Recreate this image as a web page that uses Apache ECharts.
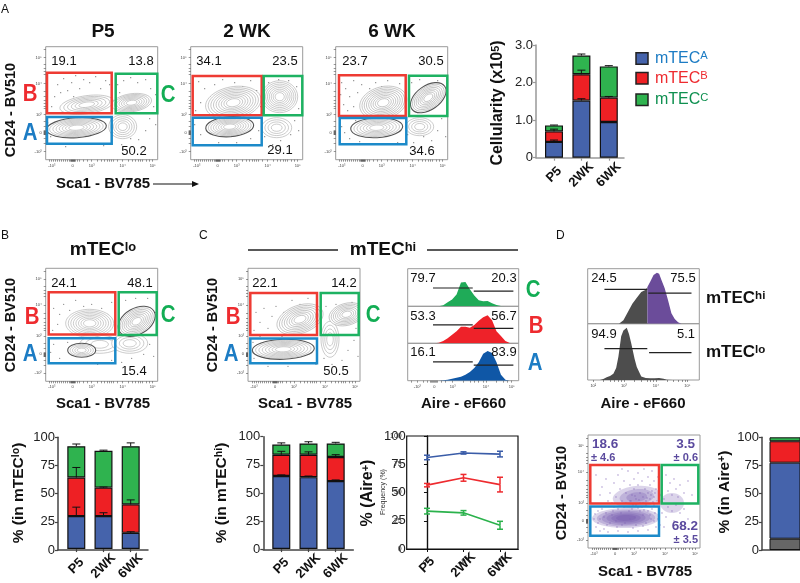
<!DOCTYPE html>
<html><head><meta charset="utf-8">
<style>html,body{margin:0;padding:0;background:#fff}#c{width:800px;height:583px}</style>
<script src="https://cdn.jsdelivr.net/npm/echarts@6/dist/echarts.min.js"></script>
</head><body><div id="c"></div>
<script>
// ---------- values ----------
const ages = ['P5','2WK','6WK'];
const cellA = [0.42,1.52,0.95], cellB = [0.28,0.70,0.65], cellC = [0.16,0.50,0.83];
const cellCaps = [[0.47,1.57,0.96],[0.76,2.33,1.63],[0.87,2.76,2.45]];
const loA = [29.5,29.5,14.5], loB = [34.5,25.5,25.5], loC = [28,33,52];
const loCaps = [[37.5,32.5,15.5],[73,55.5,44],[94,88.5,95]];
const hiA = [65,64,60.5], hiB = [19,20,21.5], hiC = [9,10,12];
const hiCaps = [[66,65,61.5],[87,86.5,84],[94.5,95.5,95]];
const aireA = [81,85,84], aireB = [56.5,63,57], aireC = [33.5,32,21];
const aireErrA = [2,1,2.5], aireErrB = [1.5,3,6.5], aireErrC = [2.5,2,3.5];
const dBar = [10,67.5,19,3.5];

const histX = [0,4,8,12,16,20,24,28,32,36,40,44,48,52,56,60,64,68,72,76,80,84,88,92,96,100];
const histC = [0,0,0,0,0,0,0,0,3,12,20,35,70,72,50,32,18,15,16,9,4,1,0,0,0,0];
const histB = [0,0,0,0,0,0,0,2,7,15,26,36,50,50,47,55,68,78,84,69,36,22,7,1,0,0];
const histA = [0,0,0,0,0,0,0,0,1,3,6,9,12,18,26,38,55,80,88,82,55,18,3,0,0,0];
const dHiGrayX = [28,32,36,40,44,48,52,53.5], dHiGray = [0,10,35,60,78,95,102,110];
const dHiPurpleX = [53.5,56,59,62,64,66,69,72,75,78,81,84], dHiPurple = [110,126,146,153,150,132,106,70,31,14,4,0];
const dLoX = [8,11,14,17,20,23,25.5,27.5,30,32,35,37,39,42,44,48,52,56,60,64,68,71,76];
const dLo = [0,0,3,8,12,18,35,68,128,145,153,135,108,62,38,10,6,5,5,6,4,1,0];

const flowXTickVals = [6,27,46,77,107], flowYTickVals = [11,37,68,86,105];
const flowXTickText = ['-10³','0','10³','10⁴','10⁵'], flowYTickText = ['10⁵','10⁴','10³','0','-10³'];
const flowXMarks = [4,6,8,10,12,14,16,18,20,22,24,25,25.5,26,26.5,27,27.5,28,28.5,29,30,32,34,38,42,46,52,56,59,62,64,66,68,72,77,83,87,90,93,95,97,101,104,107];
const flowYMarks = [3,11,18,22,25,28,37,45,50,54,57,60,62,68,75,80,84,84.5,85,85.5,86,86.5,87,87.5,88,92,97,105];
const histXVals = [8.7,24,40.5,70.5,93.7];
const histDVals = [5,32.5,61,89.3], histDText = ['10²','10³','10⁴','10⁵'];

// gates: [x0,y0,x1,y1] for red, green, blue, read in the 112-unit scale of each plot frame
const gatesA1 = [[1.3,26,66,66.6],[70,27,111.6,66.6],[1.3,70.3,66,97]];
const gatesA2 = [[2,29.3,71,68.6],[73,29.3,111.6,68.6],[2,71,71,98.6]];
const gatesA3 = [[3.3,28.6,70,69.3],[73.3,29,111.6,69.3],[4,71.3,70.6,97.6]];
const gatesB  = [[3,24,69.6,66.3],[73,24,111,66.7],[3,70,69.6,95]];
const gatesC  = [[2.3,24.6,69,66.6],[72.7,24.6,110.7,66.6],[2.3,70.3,69,95]];
const gatesD  = [[2.3,30,71,68.4],[73.7,30,110.3,68.6],[2.3,71.4,71,100.7]];

// contour families: [cx,cy,rx,ry,rotation,rings,darkEdge]
const contA1 = [[41,58,27,9,8,6,0],[86,56,20,9,8,7,0],[77,80,14,12,0,5,0],[30.7,81,30,10,4,8,1]];
const contA2 = [[42.6,56,28,16,10,9,0],[89,50,18,16,0,8,0],[86,81,15,10,0,4,0],[39,80,24,10,4,8,1]];
const contA3 = [[47.6,56,24,16,15,9,0],[84,80,14,9,0,4,0],[92.6,51,20,12,35,8,1],[41,81,26,10,3,7,1]];
const contB  = [[54,76,20,9,0,3,0],[84,75,18,10,0,4,0],[44,55,24,14,0,8,0],[36,82,14,7,0,5,1],[91,53,20,13,30,8,1]];
const contC  = [[82,71,9,18,0,4,0],[52,51,24,14,20,8,0],[98.7,46,18,11,15,7,0],[35.3,81,31,10,2,8,1]];
const blobsD = [[38,83,34,10,1,6,0],[48.7,62,24,11,6,3,0],[84,68,12,10,0,1,0]];

const specksA1 = [[12,38],[18,32],[22,44],[26,36],[30,29],[34,42],[38,33],[44,36],[50,30],[55,42],[60,34],[64,38],[9,50],[15,46],[28,50],[6,60],[72,38],[78,34],[85,31],[92,36],[100,33],[105,42],[110,48],[108,60],[104,72],[100,84],[93,93],[85,92],[76,98],[68,88],[2,76],[5,90],[20,100],[40,97],[58,99],[110,78],[18,58],[74,46]];
const specksA2 = [[8,35],[14,42],[20,50],[24,38],[32,33],[36,46],[44,36],[52,40],[60,34],[66,44],[10,56],[5,64],[78,36],[88,33],[98,34],[106,40],[108,62],[104,74],[100,88],[90,94],[82,98],[74,90],[4,78],[10,88],[28,96],[46,96],[60,92],[68,84],[108,84],[70,60],[12,68]];
const specksA3 = [[6,36],[10,42],[14,50],[18,34],[22,46],[26,38],[30,54],[34,42],[40,36],[46,40],[52,34],[58,42],[64,37],[8,58],[12,64],[18,60],[5,48],[76,36],[84,33],[102,34],[108,46],[106,72],[102,84],[96,94],[88,90],[78,96],[6,80],[9,86],[14,92],[24,95],[44,97],[62,96],[72,88],[70,76],[4,74],[20,74],[110,90]];
const specksB = [[8,40],[14,46],[18,36],[24,42],[12,56],[7,62],[30,32],[38,38],[46,36],[56,40],[62,46],[66,34],[80,32],[90,30],[102,30],[110,44],[110,66],[104,76],[98,86],[86,90],[76,94],[66,92],[8,76],[5,84],[14,90],[22,74],[36,95],[52,96],[108,88],[70,82]];
const specksC = [[8,44],[12,54],[16,40],[20,60],[24,48],[28,38],[32,56],[36,44],[44,32],[52,36],[60,30],[66,38],[6,62],[5,74],[10,78],[6,90],[78,38],[88,36],[104,34],[108,60],[106,72],[100,82],[94,92],[84,96],[76,90],[68,96],[40,98],[20,98],[12,68],[34,68],[110,88]];
const specksD = [[14,52],[18,44],[22,58],[26,48],[28,62],[30,40],[32,54],[34,66],[36,46],[38,58],[40,36],[42,50],[42,66],[44,60],[46,44],[46,54],[48,64],[50,38],[50,50],[52,58],[52,68],[54,46],[55,62],[56,34],[57,54],[58,66],[60,42],[60,58],[62,50],[62,64],[64,36],[64,56],[66,46],[66,62],[68,54],[69,66],[70,42],[72,60],[74,50],[76,64],[78,40],[80,56],[82,48],[84,60],[86,44],[88,54],[90,62],[92,50],[96,58],[100,46],[104,60],[80,72],[84,76],[88,70],[92,78],[96,74],[100,84],[78,82],[86,86],[74,78],[72,90],[76,92],[92,90],[6,84],[8,92],[10,76],[12,96],[14,74],[16,94],[20,97],[26,72],[30,96],[36,72],[40,97],[44,74],[50,96],[54,72],[60,95],[64,74],[68,92],[67,78],[62,80],[58,88],[52,76],[48,90],[42,84],[34,90],[28,86],[22,88],[18,78],[12,84],[10,88],[7,79],[66,86],[70,84],[24,68],[38,68],[48,70],[58,70],[66,70],[20,66],[12,60],[8,40],[34,34],[16,82],[24,80],[33,78],[41,76],[47,82],[55,80],[63,84],[37,88],[29,92],[45,93],[55,91],[19,90],[60,76],[43,66],[47,61],[51,65],[55,68],[59,63],[63,60],[67,58],[65,67],[45,70],[50,73],[56,75],[30,74],[25,76]];

// ---------- colours ----------
const blue='#4563ab', red='#ee2024', green='#2fb34f', gray='#666';
const gateCols=['#ee3b33','#1eb262','#1c8ac9'];
const F='"Liberation Sans",Arial,sans-serif';

const grids=[],xAxes=[],yAxes=[],series=[],graphics=[];
function grid(l,t,w,h,extra){grids.push(Object.assign({left:l,top:t,width:w,height:h,containLabel:false},extra||{}));return grids.length-1;}
function off(g,o){return Object.assign({gridIndex:g,type:'value',axisLine:{show:false},axisTick:{show:false},axisLabel:{show:false},splitLine:{show:false}},o);}

function ellipseRings(data,fill){
  series.push({type:'custom',xAxisIndex:xAxes.length-1,yAxisIndex:yAxes.length-1,silent:true,clip:true,z:2,
    data:data,
    renderItem:(p,api)=>{
      const c=api.coord([api.value(0),api.value(1)]), o=api.coord([0,0]), u=api.coord([1,1]);
      const sx=u[0]-o[0], sy=u[1]-o[1];
      const n=api.value(5), dark=api.value(6), rot=api.value(4)*Math.PI/180, kids=[];
      for(let i=0;i<n;i++){
        const k=1-i*0.85/Math.max(n,1);
        const edge=dark&&i===0;
        kids.push({type:'ellipse',x:c[0],y:c[1],rotation:rot,
          shape:{cx:0,cy:0,rx:api.value(2)*k*sx,ry:api.value(3)*k*sy},
          style:fill?{fill:fill,stroke:null,opacity:0.24}:{fill:i===0?'#fff':null,stroke:edge?'#555':'#999',lineWidth:edge?1.1:0.5}});
      }
      return {type:'group',children:kids};
    }});
}
function flow(l,t,gates,conts,specks,opt){
  opt=opt||{};
  const g=grid(l,t,112,113,{show:true,borderColor:'#9a9a9a',borderWidth:1,backgroundColor:'transparent'});
  xAxes.push({gridIndex:g,type:'value',position:'bottom',min:0,max:112,splitLine:{show:false},axisLine:{show:false,onZero:false},
    axisTick:{show:true,length:2,customValues:flowXMarks,lineStyle:{color:'#333',width:0.5}},
    axisLabel:{show:true,fontSize:4,color:'#444',margin:4,fontFamily:F,customValues:flowXTickVals,formatter:v=>flowXTickText[flowXTickVals.indexOf(v)]}});
  yAxes.push({gridIndex:g,type:'value',position:'left',inverse:true,min:0,max:113,splitLine:{show:false},axisLine:{show:false,onZero:false},
    axisTick:{show:true,length:2,customValues:flowYMarks,lineStyle:{color:'#333',width:0.5}},
    axisLabel:{show:true,fontSize:4,color:'#444',margin:4,fontFamily:F,customValues:flowYTickVals,formatter:v=>flowYTickText[flowYTickVals.indexOf(v)]}});
  const xi=xAxes.length-1, yi=yAxes.length-1;
  series.push({type:'scatter',xAxisIndex:xi,yAxisIndex:yi,data:specks,symbolSize:opt.dot||1.2,symbol:'circle',silent:true,itemStyle:{color:opt.dotColor||'#555'},z:1});
  ellipseRings(conts,opt.fill);
  if(opt.fill){const last=series[series.length-1];last.z=0;series[series.length-2].z=1;}
  series.push({type:'custom',xAxisIndex:xi,yAxisIndex:yi,silent:true,clip:false,z:4,data:gates.map((d,i)=>d.concat(i)),
    renderItem:(p,api)=>{const a=api.coord([api.value(0),api.value(1)]),b=api.coord([api.value(2),api.value(3)]);
      return {type:'rect',shape:{x:a[0],y:a[1],width:b[0]-a[0],height:b[1]-a[1]},style:{fill:null,stroke:gateCols[api.value(4)],lineWidth:2.5}};}});
}
function hist(l,t,w,h,yMax,lines,areas,xTicks,xTexts,marks){
  const g=grid(l,t,w,h,{show:true,borderColor:'#9a9a9a',borderWidth:1,backgroundColor:'transparent'});
  if(xTicks){
    xAxes.push({gridIndex:g,type:'value',min:0,max:100,splitLine:{show:false},axisLine:{show:false},
      axisTick:{show:true,length:2,customValues:marks,lineStyle:{color:'#333',width:0.5}},
      axisLabel:{show:true,fontSize:4,color:'#444',margin:4,fontFamily:F,customValues:xTicks,formatter:v=>xTexts[xTicks.indexOf(v)]}});
  } else xAxes.push(off(g,{min:0,max:100}));
  yAxes.push(off(g,{min:0,max:yMax}));
  const xi=xAxes.length-1, yi=yAxes.length-1;
  areas.forEach(a=>series.push({type:'line',xAxisIndex:xi,yAxisIndex:yi,silent:true,symbol:'none',data:a.x.map((x,i)=>[x,a.y[i]]),lineStyle:{width:0},areaStyle:{color:a.color,opacity:1},z:2}));
  lines.forEach(s=>series.push({type:'line',xAxisIndex:xi,yAxisIndex:yi,silent:true,symbol:'none',data:[[s[0],s[2]],[s[1],s[2]]],lineStyle:{color:'#222',width:1.2},z:3}));
}
// axes drawn on a frame grid, bars on a category grid inside it
function frameAxes(l,t,w,h,yMax,yInt,lc,fmt){
  const g=grid(l,t,w,h);
  xAxes.push(off(g,{min:0,max:1,axisLine:{show:true,lineStyle:{color:lc,width:1.5}}}));
  yAxes.push({gridIndex:g,type:'value',min:0,max:yMax,interval:yInt,splitLine:{show:false},axisLine:{show:true,lineStyle:{color:lc,width:1.5}},
    axisTick:{show:true,length:3,lineStyle:{color:lc,width:1.2}},
    axisLabel:{fontSize:13,color:'#222',fontFamily:F,margin:3,formatter:fmt||(v=>v)}});
  series.push({type:'line',xAxisIndex:xAxes.length-1,yAxisIndex:yAxes.length-1,data:[],silent:true});
}
function stackedBars(l,t,w,h,yMax,yInt,c0,step,segs,caps,opt){
  opt=opt||{};
  const lc=opt.axisColor||'#444';
  frameAxes(l,t,w,h,yMax,yInt,lc,opt.fmt);
  const g=grid(c0-step/2,t,step*3,h);
  xAxes.push({gridIndex:g,type:'category',data:ages,axisLine:{show:false},splitLine:{show:false},
    axisTick:{show:true,alignWithLabel:true,length:3,lineStyle:{color:lc,width:1.2}},
    axisLabel:{show:true,interval:0,rotate:45,align:'center',verticalAlign:'middle',fontSize:13,fontWeight:'bold',color:'#111',fontFamily:F,margin:17}});
  yAxes.push(off(g,{min:0,max:yMax}));
  const xi=xAxes.length-1, yi=yAxes.length-1, stackId='s'+g;
  segs.forEach(s=>series.push({type:'bar',xAxisIndex:xi,yAxisIndex:yi,stack:stackId,barWidth:18,silent:true,z:2,
    data:s.v,itemStyle:{color:s.c,borderColor:'#111',borderWidth:1.2}}));
  const base=ages.map(()=>0);
  segs.forEach((s,k)=>{
    const d=s.v.map((v,i)=>{base[i]+=v;return [i,base[i],caps[k][i]];});
    series.push({type:'custom',xAxisIndex:xi,yAxisIndex:yi,silent:true,clip:false,z:3,data:d,renderItem:errItem(4,1,'#111')});
  });
}
function errItem(w,lw,col){return (p,api)=>{
  const a=api.coord([api.value(0),api.value(1)]),b=api.coord([api.value(0),api.value(2)]);
  const st={stroke:col,lineWidth:lw,fill:null};
  return {type:'group',children:[
    {type:'line',shape:{x1:a[0],y1:a[1],x2:b[0],y2:b[1]},style:st},
    {type:'line',shape:{x1:b[0]-w,y1:b[1],x2:b[0]+w,y2:b[1]},style:st}]};};}
function txt(s,x,y,o){o=o||{};
  const size=o.size||13, weight=o.weight||'normal', color=o.color||'#111';
  graphics.push({type:'text',x:x,y:y,rotation:o.rot?Math.PI/2:0,scaleX:o.sx||1,z:20,silent:true,
    style:{text:s,fontSize:size,fontWeight:weight,fontFamily:F,fill:color,align:o.align||'center',verticalAlign:'middle',
      rich:{s:{fontSize:size*(o.supScale||0.68),fontWeight:weight,fontFamily:F,fill:color,verticalAlign:'top'}}}});
}
function bar(x1,y,x2){graphics.push({type:'line',z:20,silent:true,shape:{x1:x1,y1:y,x2:x2,y2:y},style:{stroke:'#222',lineWidth:1.3}});}

// ---------- flow plots ----------
flow(45.7,46.7,gatesA1,contA1,specksA1);
flow(190.7,46.7,gatesA2,contA2,specksA2);
flow(335.7,46.7,gatesA3,contA3,specksA3);
flow(45.7,268.3,gatesB,contB,specksB);
flow(248,268.3,gatesC,contC,specksC);
flow(588,435,gatesD,blobsD,specksD,{fill:'#6a4aa6',dot:1.3,dotColor:'#7f62b5'});

// ---------- histograms ----------
hist(407.7,268.7,111,37.6,111,[[22.8,58.6,54],[59.5,95.2,45]],[{x:histX,y:histC,color:'#1fab58'}]);
hist(407.7,306.3,111,37,111,[[22.8,58.6,55],[59.5,95.2,45]],[{x:histX,y:histB,color:'#ee2229'}]);
hist(407.7,343.3,111,37.4,111,[[22.8,58.6,56],[59.5,95.2,46]],[{x:histX,y:histA,color:'#0f57a6'}],histXVals,flowXTickText,[3,8.7,14,18,20,21,22,23,24,25,26,27,30,34,40.5,50,56,60,64,68,70.5,80,86,90,93.7]);
hist(587.7,268.7,111.6,55,165,[[15,53.4,103],[54.3,93,92]],[{x:dHiGrayX,y:dHiGray,color:'#4d4d4d'},{x:dHiPurpleX,y:dHiPurple,color:'#6b4c9a'}]);
hist(587.7,323.7,111.6,56.3,165,[[15,53.4,92],[55,93,80]],[{x:dLoX,y:dLo,color:'#4d4d4d'}],histDVals,histDText,[5,14,20,24,27,30,32.5,42,48,53,56,59,61,71,77,81,85,87,89.3]);

// ---------- stacked bars ----------
stackedBars(536,45,88,112.7,3,1,554,27.4,[{v:cellA,c:blue},{v:cellB,c:red},{v:cellC,c:green}],cellCaps,{axisColor:'#999',fmt:v=>v===0?'0':v.toFixed(1)});
stackedBars(58,437.3,90,112.7,100,25,76.3,27.2,[{v:loA,c:blue},{v:loB,c:red},{v:loC,c:green}],loCaps);
stackedBars(263.3,436.7,90,112.7,100,25,281.3,27.2,[{v:hiA,c:blue},{v:hiB,c:red},{v:hiC,c:green}],hiCaps);

// ---------- Aire line panel ----------
{const g=grid(406.7,436,111.3,113,{show:true,borderColor:'#111',borderWidth:1.2,backgroundColor:'transparent'});
 const mkX=(sz,wt,mg)=>({gridIndex:g,type:'value',min:-0.556,max:2.493,splitLine:{show:false},axisLine:{lineStyle:{color:'#111',width:1.2}},
   axisTick:{show:true,length:3,customValues:[0,1,2],lineStyle:{color:'#111'}},
   axisLabel:{show:true,customValues:[0,1,2],formatter:v=>ages[v],rotate:45,align:'center',verticalAlign:'middle',fontSize:sz,fontWeight:wt,color:'#111',fontFamily:F,margin:mg}});
 const mkY=(sz,mg)=>({gridIndex:g,type:'value',min:0,max:100,interval:25,splitLine:{show:false},axisLine:{lineStyle:{color:'#111',width:1.2}},
   axisTick:{show:true,length:3,lineStyle:{color:'#111'}},axisLabel:{fontSize:sz,color:sz>10?'#222':'#333',fontFamily:F,margin:mg}});
 xAxes.push(mkX(13,'bold',16)); const xi=xAxes.length-1;
 yAxes.push(mkY(13,1)); const yi=yAxes.length-1;
 xAxes.push(Object.assign(mkX(6,'normal',12),{position:'bottom'}));
 yAxes.push(Object.assign(mkY(7,5),{position:'left'}));
 const addL=(vals,errs,c)=>{
   series.push({type:'line',xAxisIndex:xi,yAxisIndex:yi,silent:true,symbol:'none',data:vals.map((v,i)=>[i,v]),lineStyle:{color:c,width:1.6},z:3});
   series.push({type:'custom',xAxisIndex:xi,yAxisIndex:yi,silent:true,clip:false,z:4,data:vals.map((v,i)=>[i,v,v+errs[i]]),renderItem:errItem(3,1.5,c)});
   series.push({type:'custom',xAxisIndex:xi,yAxisIndex:yi,silent:true,clip:false,z:4,data:vals.map((v,i)=>[i,v,v-errs[i]]),renderItem:errItem(3,1.5,c)});
 };
 addL(aireA,aireErrA,'#3a5ca8'); addL(aireB,aireErrB,'#ee2b2f'); addL(aireC,aireErrC,'#2bb24c');
 series.push({type:'line',xAxisIndex:xi+1,yAxisIndex:yi+1,data:[],silent:true});
}

// ---------- panel D stacked bar, cut by the page edge ----------
frameAxes(762,437.3,38,112.7,100,25,'#444');
{const g=grid(770,437.3,44,112.7);
 xAxes.push(off(g,{type:'category',data:['Aire+']}));
 yAxes.push(off(g,{min:0,max:100}));
 [gray,blue,red,green].forEach((c,k)=>series.push({type:'bar',xAxisIndex:xAxes.length-1,yAxisIndex:yAxes.length-1,stack:'d',barWidth:44,silent:true,data:[dBar[k]],itemStyle:{color:c,borderColor:'#111',borderWidth:1}}));
}

// ---------- text ----------
txt('A',1,10,{size:12,align:'left'});txt('B',1,236,{size:12,align:'left'});txt('C',199,236,{size:12,align:'left'});txt('D',556,236,{size:12,align:'left'});
txt('P5',103,32,{size:19,weight:'bold'});txt('2 WK',247,32,{size:19,weight:'bold'});txt('6 WK',392,32,{size:19,weight:'bold'});
const yl=(x,y)=>txt('CD24 - BV510',x,y,{size:14.5,weight:'bold',rot:1});
const xl=(x,y)=>txt('Sca1 - BV785',x,y,{size:15,weight:'bold'});
yl(11,110);yl(11,325);yl(213,325);yl(562,493);
xl(103,184);xl(103,404);xl(305,404);xl(645,572);
txt('Aire - eF660',463.5,404,{size:15,weight:'bold'});txt('Aire - eF660',643,404,{size:15,weight:'bold'});
graphics.push({type:'line',z:20,silent:true,shape:{x1:153,y1:184,x2:194,y2:184},style:{stroke:'#111',lineWidth:1}});
graphics.push({type:'polygon',z:20,silent:true,shape:{points:[[192,181],[199,184],[192,187]]},style:{fill:'#111'}});
const L=(s,x,y,c)=>txt(s,x,y,{size:24,weight:'bold',color:c,sx:0.85});
const lr='#ee2b2f',lb='#1c7cc4',lg='#12ad54';
L('B',30,94,lr);L('A',30,133,lb);L('C',168,95,lg);
L('B',32,317,lr);L('A',30,354,lb);L('C',168,315,lg);
L('B',233,317,lr);L('A',231,354,lb);L('C',373,315,lg);
L('C',533,290,lg);L('B',536,326,lr);L('A',535,363,lb);
const num=(s,x,y)=>txt(s,x,y,{size:13});
[['19.1',64,61],['13.8',141,61],['50.2',134,151],['34.1',209,61],['23.5',285,61],['29.1',280,150],['23.7',355,61],['30.5',431,61],['34.6',422,151],
 ['24.1',64,283],['48.1',140,283],['15.4',134,371],['22.1',265,283],['14.2',344,283],['50.5',336,371],
 ['79.7',423,278],['20.3',504,278],['53.3',423,316],['56.7',504,316],['16.1',423,352.5],['83.9',504,352.5],
 ['24.5',604,278],['75.5',683,278],['94.9',604,334],['5.1',686,334]].forEach(a=>num(a[0],a[1],a[2]));
txt('mTEC{s|lo}',103,250,{size:19,weight:'bold'});
txt('mTEC{s|hi}',383,250,{size:19,weight:'bold'});
bar(248,250,338);bar(427,250,518);
txt('mTEC{s|hi}',706,298,{size:17,weight:'bold',align:'left'});
txt('mTEC{s|lo}',706,352,{size:17,weight:'bold',align:'left'});
txt('Cellularity (x10{s|5})',498,103,{size:16,weight:'bold',rot:1});
txt('% (in mTEC{s|lo})',19,493,{size:15.5,weight:'bold',rot:1});
txt('% (in mTEC{s|hi})',222,493,{size:15.5,weight:'bold',rot:1});
txt('% (Aire{s|+})',368,493,{size:16,weight:'bold',rot:1});
txt('Frequency (%)',383,492,{size:7,color:'#333',rot:1});
txt('% (in Aire{s|+})',725,492,{size:15.5,weight:'bold',rot:1});
const pu='#5b4a9e';
txt('18.6',592,444,{size:13.5,weight:'bold',color:pu,align:'left'});txt('± 4.6',591,458,{size:11,weight:'bold',color:pu,align:'left'});
txt('3.5',695,444,{size:13.5,weight:'bold',color:pu,align:'right'});txt('± 0.6',698,458,{size:11,weight:'bold',color:pu,align:'right'});
txt('68.2',698,526,{size:13.5,weight:'bold',color:pu,align:'right'});txt('± 3.5',698,540,{size:11,weight:'bold',color:pu,align:'right'});
[[blue,52.7,'mTEC{s|A}','#1c7cc4'],[red,72.5,'mTEC{s|B}','#ee2b2f'],[green,94,'mTEC{s|C}','#0f9050']].forEach(r=>{
  graphics.push({type:'rect',z:20,silent:true,shape:{x:636,y:r[1],width:12,height:11.5},style:{fill:r[0],stroke:'#222',lineWidth:1.5}});
  txt(r[2],655,r[1]+6,{size:16,color:r[3],align:'left',supScale:0.7});
});

const chart=echarts.init(document.getElementById('c'),null,{renderer:'canvas'});
chart.setOption({animation:false,backgroundColor:'#fff',tooltip:{show:false},grid:grids,xAxis:xAxes,yAxis:yAxes,series:series,graphic:{elements:graphics}});
</script></body></html>
